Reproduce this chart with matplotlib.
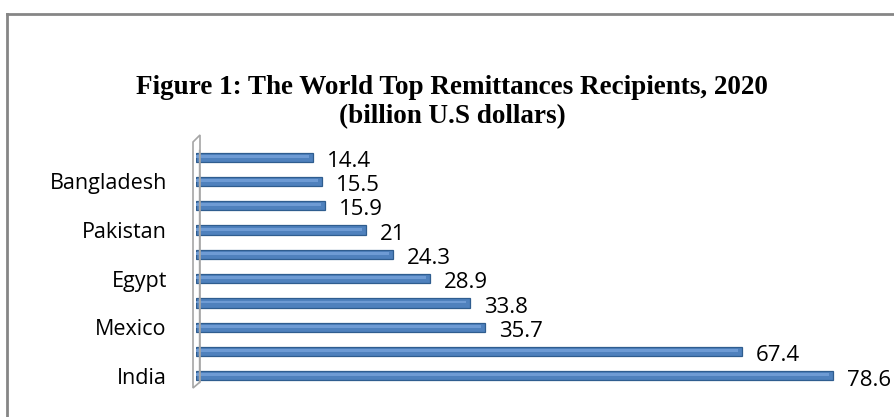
import matplotlib
matplotlib.use("Agg")
import matplotlib.pyplot as plt
from matplotlib.patches import Polygon
from matplotlib.lines import Line2D

# data, bottom (India) to top
countries = ["India", "", "Mexico", "", "Egypt", "", "Pakistan", "", "Bangladesh", ""]
values = [78.6, 67.4, 35.7, 33.8, 28.9, 24.3, 21, 15.9, 15.5, 14.4]
value_labels = ["78.6", "67.4", "35.7", "33.8", "28.9", "24.3", "21", "15.9", "15.5", "14.4"]

W, H = 894, 417
fig = plt.figure(figsize=(W / 100, H / 100), dpi=100)
fig.patch.set_facecolor("white")

# axes placed in pixel terms
x0, x1 = 196, 880
y_top, y_bot = 145, 388
ax = fig.add_axes([x0 / W, (H - y_bot) / H, (x1 - x0) / W, (y_bot - y_top) / H])
ax.set_xlim(0, (x1 - x0) / 8.1)
ax.set_ylim(-0.5, 9.5)

pos = list(range(len(values)))
ax.barh(pos, values, height=0.38, color="#4f81bd", edgecolor="#2f5d8f", linewidth=0.9, zorder=3)
# soft highlight for the cylinder look
ax.barh([p + 0.04 for p in pos], [v - 0.5 for v in values], height=0.12,
        color="#6e9bd4", linewidth=0, zorder=4)

for p, v, lab in zip(pos, values, value_labels):
    ax.annotate(lab, xy=(v, p), xytext=(10, -3), textcoords="offset points",
                ha="left", va="center", fontsize=16, family="Open Sans", color="black")

ax.set_yticks(pos)
ax.set_yticklabels(countries, fontsize=15.5, family="Open Sans")
ax.tick_params(axis="y", length=0, pad=21)
ax.set_xticks([])
for s in ax.spines.values():
    s.set_visible(False)

# 3D wall on the category axis
wall = Polygon([[(193) / W, (H - 142) / H], [(200) / W, (H - 135) / H],
                [(200) / W, (H - 382) / H], [(193) / W, (H - 388) / H]],
               closed=True, fill=False, edgecolor="#a6a6a6", linewidth=1.2,
               transform=fig.transFigure)
fig.add_artist(wall)
fig.add_artist(Line2D([199 / W, 199 / W], [(H - 150) / H, (H - 382) / H],
                      color="#a6a6a6", linewidth=1.0, transform=fig.transFigure))

# chart border (top and left visible)
fig.add_artist(Line2D([6.5 / W, 1], [1 - 13.5 / H, 1 - 13.5 / H], color="#868686",
                      linewidth=2, transform=fig.transFigure))
fig.add_artist(Line2D([6.5 / W, 6.5 / W], [0, 1 - 13.5 / H], color="#868686",
                      linewidth=2, transform=fig.transFigure))

fig.text(452 / W, 1 - 88 / H, "Figure 1: The World Top Remittances Recipients, 2020",
         ha="center", va="center", fontsize=19.5, fontweight="bold", family="Liberation Serif")
fig.text(452 / W, 1 - 117 / H, "(billion U.S dollars)",
         ha="center", va="center", fontsize=19.5, fontweight="bold", family="Liberation Serif")

fig.savefig("out.png", dpi=100, facecolor="white")
